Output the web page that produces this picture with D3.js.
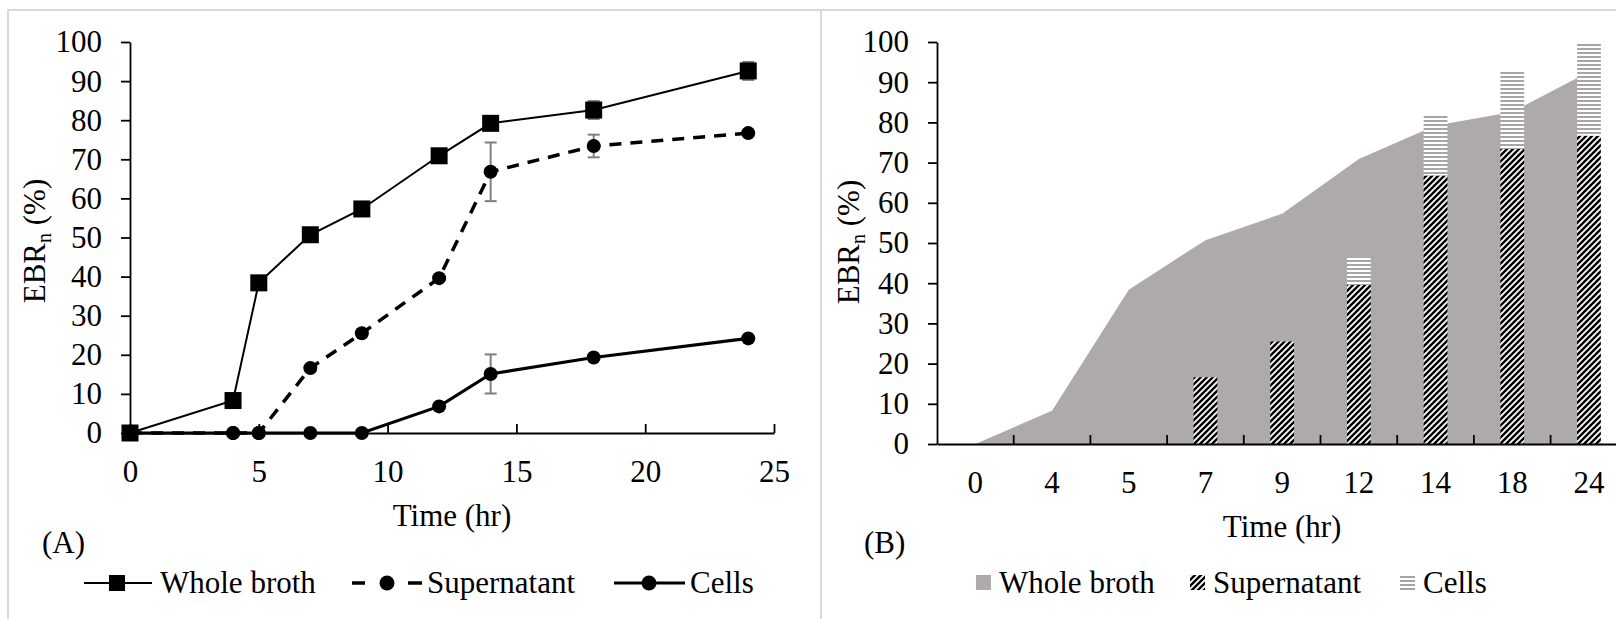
<!DOCTYPE html>
<html>
<head>
<meta charset="utf-8">
<script src="https://cdn.jsdelivr.net/npm/d3@7"></script>
<style>
  html, body { margin: 0; padding: 0; background: #fff; }
  svg { display: block; }
  text { font-family: "Liberation Serif", "Times New Roman", serif; fill: #000; }
</style>
</head>
<body>
<svg id="chart" width="1616" height="619"></svg>
<script>
// Sampling times (hr) and EBRn (%) readings
const times = [0, 4, 5, 7, 9, 12, 14, 18, 24];
const timeLabels = ["0", "4", "5", "7", "9", "12", "14", "18", "24"];
const wholeBroth = [0, 8.3, 38.4, 50.7, 57.3, 70.9, 79.2, 82.6, 92.6];
const supernatant = [0, 0, 0, 16.6, 25.5, 39.6, 66.8, 73.4, 76.7];
const cells = [0, 0, 0, 0, 0, 6.8, 15.1, 19.3, 24.2];
// Standard deviations
const wholeBrothErr = [0, 0, 0, 0, 0, 0, 0, 2.3, 2.3];
const supernatantErr = [0, 0, 0, 0, 0, 0, 7.5, 2.9, 0];
const cellsErr = [0, 0, 0, 0, 0, 0, 5.0, 0, 0];

const yTicks = [0, 10, 20, 30, 40, 50, 60, 70, 80, 90, 100];
const xTicksA = [0, 5, 10, 15, 20, 25];
const seriesNames = ["Whole broth", "Supernatant", "Cells"];

const FS = 31;
const svg = d3.select("#chart");

// Patterns for the stacked bars
const defs = svg.append("defs");
const diag = defs.append("pattern").attr("id", "diag")
  .attr("patternUnits", "userSpaceOnUse").attr("width", 6).attr("height", 6);
diag.append("rect").attr("width", 6).attr("height", 6).attr("fill", "#fff");
diag.append("path").attr("d", "M-1,1 l2,-2 M0,6 l6,-6 M5,7 l2,-2")
  .attr("stroke", "#000").attr("stroke-width", 2.4);
const horiz = defs.append("pattern").attr("id", "horiz")
  .attr("patternUnits", "userSpaceOnUse").attr("width", 4).attr("height", 4);
horiz.append("rect").attr("width", 4).attr("height", 4).attr("fill", "#fff");
horiz.append("rect").attr("y", 0).attr("width", 4).attr("height", 2).attr("fill", "#a6a6a6");

// Panel frames
svg.append("rect").attr("x", 8).attr("y", 10).attr("width", 813).attr("height", 620)
  .attr("fill", "none").attr("stroke", "#d9d9d9").attr("stroke-width", 2);
svg.append("rect").attr("x", 821).attr("y", 10).attr("width", 820).attr("height", 620)
  .attr("fill", "none").attr("stroke", "#d9d9d9").attr("stroke-width", 2);

function yTitle(g, x, y) {
  const t = g.append("text").attr("transform", `translate(${x},${y}) rotate(-90)`)
    .attr("text-anchor", "middle").attr("font-size", FS);
  t.append("tspan").text("EBR");
  t.append("tspan").attr("font-size", 20).attr("dy", 6).text("n");
  t.append("tspan").attr("dy", -6).text(" (%)");
}

function styleAxis(sel) {
  sel.select(".domain").attr("stroke", "#000").attr("stroke-width", 1.8);
  sel.selectAll(".tick line").attr("stroke", "#000").attr("stroke-width", 1.8);
  sel.selectAll("text").attr("font-size", FS).attr("font-family", "Liberation Serif, serif").attr("fill", "#000");
}

// ---------------- Panel A: line chart ----------------
const gA = svg.append("g");
const xA = d3.scaleLinear().domain([0, 25]).range([130, 774]);
const yA = d3.scaleLinear().domain([0, 100]).range([433, 42]);

const yAxisA = gA.append("g").attr("transform", `translate(${xA(0)},0)`)
  .call(d3.axisLeft(yA).tickValues(yTicks).tickSize(9).tickSizeOuter(0).tickPadding(19));
styleAxis(yAxisA);
const xAxisA = gA.append("g").attr("transform", `translate(0,${yA(0)})`)
  .call(d3.axisBottom(xA).tickValues(xTicksA).tickSizeInner(-9).tickSizeOuter(0));
styleAxis(xAxisA);
xAxisA.selectAll("text").attr("y", 49).attr("dy", null);

const ptsA = arr => times.map((t, i) => ({ t, v: arr[i] }));
const lineA = d3.line().x(d => xA(d.t)).y(d => yA(d.v));

const seriesA = [
  { vals: wholeBroth, err: wholeBrothErr, width: 2, dash: null, marker: "square", size: 17 },
  { vals: supernatant, err: supernatantErr, width: 3.5, dash: "12,9", marker: "circle", size: 7 },
  { vals: cells, err: cellsErr, width: 3.2, dash: null, marker: "circle", size: 7 }
];

seriesA.forEach(s => {
  const pts = ptsA(s.vals);
  gA.append("path").datum(pts).attr("d", lineA).attr("fill", "none")
    .attr("stroke", "#000").attr("stroke-width", s.width)
    .attr("stroke-dasharray", s.dash);
  // error bars
  const eb = gA.append("g").attr("stroke", "#7f7f7f").attr("stroke-width", 2);
  pts.forEach((d, i) => {
    const e = s.err[i];
    if (!e) return;
    const x = xA(d.t), y1 = yA(d.v + e), y2 = yA(d.v - e);
    eb.append("line").attr("x1", x).attr("x2", x).attr("y1", y1).attr("y2", y2);
    eb.append("line").attr("x1", x - 6).attr("x2", x + 6).attr("y1", y1).attr("y2", y1);
    eb.append("line").attr("x1", x - 6).attr("x2", x + 6).attr("y1", y2).attr("y2", y2);
  });
  if (s.marker === "square") {
    gA.append("g").selectAll("rect").data(pts).join("rect")
      .attr("x", d => xA(d.t) - s.size / 2).attr("y", d => yA(d.v) - s.size / 2)
      .attr("width", s.size).attr("height", s.size).attr("fill", "#000");
  } else {
    gA.append("g").selectAll("circle").data(pts).join("circle")
      .attr("cx", d => xA(d.t)).attr("cy", d => yA(d.v)).attr("r", s.size).attr("fill", "#000");
  }
});

gA.append("text").attr("x", xA(12.5)).attr("y", 526).attr("text-anchor", "middle")
  .attr("font-size", FS).text("Time (hr)");
gA.append("text").attr("x", 42).attr("y", 553).attr("font-size", FS).text("(A)");
yTitle(gA, 45, 241);

// Legend A
const legA = gA.append("g");
const legAItems = [
  { x0: 84, x1: 152, mx: 117, text: 160, s: seriesA[0] },
  { x0: 352, x1: 422, mx: 387, text: 427, s: seriesA[1] },
  { x0: 614, x1: 685, mx: 649, text: 690, s: seriesA[2] }
];
const legY = 583;
legAItems.forEach((it, i) => {
  if (it.s.dash) {
    // short dash on each side of the marker
    [[it.x0, it.x0 + 13], [it.x1 - 14, it.x1]].forEach(([a, b]) => {
      legA.append("line").attr("x1", a).attr("x2", b).attr("y1", legY).attr("y2", legY)
        .attr("stroke", "#000").attr("stroke-width", it.s.width);
    });
  } else {
    legA.append("line").attr("x1", it.x0).attr("x2", it.x1).attr("y1", legY).attr("y2", legY)
      .attr("stroke", "#000").attr("stroke-width", it.s.width);
  }
  if (it.s.marker === "square") {
    legA.append("rect").attr("x", it.mx - 8).attr("y", legY - 8).attr("width", 16).attr("height", 16).attr("fill", "#000");
  } else {
    legA.append("circle").attr("cx", it.mx).attr("cy", legY).attr("r", 7.5).attr("fill", "#000");
  }
  legA.append("text").attr("x", it.text).attr("y", 593).attr("font-size", FS).text(seriesNames[i]);
});

// ---------------- Panel B: area + stacked bars ----------------
const gB = svg.append("g");
const xB = d3.scaleBand().domain(timeLabels).range([937, 937 + 9 * 76.7]).paddingInner(0).paddingOuter(0);
const yB = d3.scaleLinear().domain([0, 100]).range([444, 42]);
const bw = xB.bandwidth();
const cx = lab => xB(lab) + bw / 2;

gB.append("clipPath").attr("id", "clipB").append("rect")
  .attr("x", 900).attr("y", yB(100)).attr("width", 800).attr("height", yB(0) - yB(100));

const plotB = gB.append("g").attr("clip-path", "url(#clipB)");

const areaB = d3.area().x((d, i) => cx(timeLabels[i])).y0(yB(0)).y1(d => yB(d));
plotB.append("path").datum(wholeBroth).attr("d", areaB).attr("fill", "#aeaaaa");

const barW = bw * 0.31;
plotB.append("g").selectAll("rect").data(timeLabels).join("rect")
  .attr("x", d => cx(d) - barW / 2)
  .attr("y", (d, i) => yB(supernatant[i]))
  .attr("width", barW)
  .attr("height", (d, i) => yB(0) - yB(supernatant[i]))
  .attr("fill", "url(#diag)");
plotB.append("g").selectAll("rect").data(timeLabels).join("rect")
  .attr("x", d => cx(d) - barW / 2)
  .attr("y", (d, i) => yB(supernatant[i] + cells[i]))
  .attr("width", barW)
  .attr("height", (d, i) => yB(supernatant[i]) - yB(supernatant[i] + cells[i]))
  .attr("fill", "url(#horiz)");

const yAxisB = gB.append("g").attr("transform", `translate(937,0)`)
  .call(d3.axisLeft(yB).tickValues(yTicks).tickSize(9).tickSizeOuter(0).tickPadding(19));
styleAxis(yAxisB);
const xAxisB = gB.append("g").attr("transform", `translate(0,${yB(0)})`)
  .call(d3.axisBottom(xB).tickSize(0).tickSizeOuter(0));
styleAxis(xAxisB);
xAxisB.selectAll("text").attr("y", 49).attr("dy", null);
// category boundary ticks
gB.append("g").selectAll("line").data(timeLabels.slice(1)).join("line")
  .attr("x1", d => xB(d)).attr("x2", d => xB(d))
  .attr("y1", yB(0)).attr("y2", yB(0) - 9)
  .attr("stroke", "#000").attr("stroke-width", 1.8);

gB.append("text").attr("x", (xB.range()[0] + xB.range()[1]) / 2).attr("y", 537)
  .attr("text-anchor", "middle").attr("font-size", FS).text("Time (hr)");
gB.append("text").attr("x", 864).attr("y", 553).attr("font-size", FS).text("(B)");
yTitle(gB, 859, 242);

// Legend B
const legB = gB.append("g");
const legBItems = [
  { sx: 976, fill: "#aeaaaa", tx: 999 },
  { sx: 1190, fill: "url(#diag)", tx: 1213 },
  { sx: 1400, fill: "url(#horiz)", tx: 1423 }
];
legBItems.forEach((it, i) => {
  legB.append("rect").attr("x", it.sx).attr("y", 575).attr("width", 15).attr("height", 15).attr("fill", it.fill);
  legB.append("text").attr("x", it.tx).attr("y", 593).attr("font-size", FS).text(seriesNames[i]);
});
</script>
</body>
</html>
